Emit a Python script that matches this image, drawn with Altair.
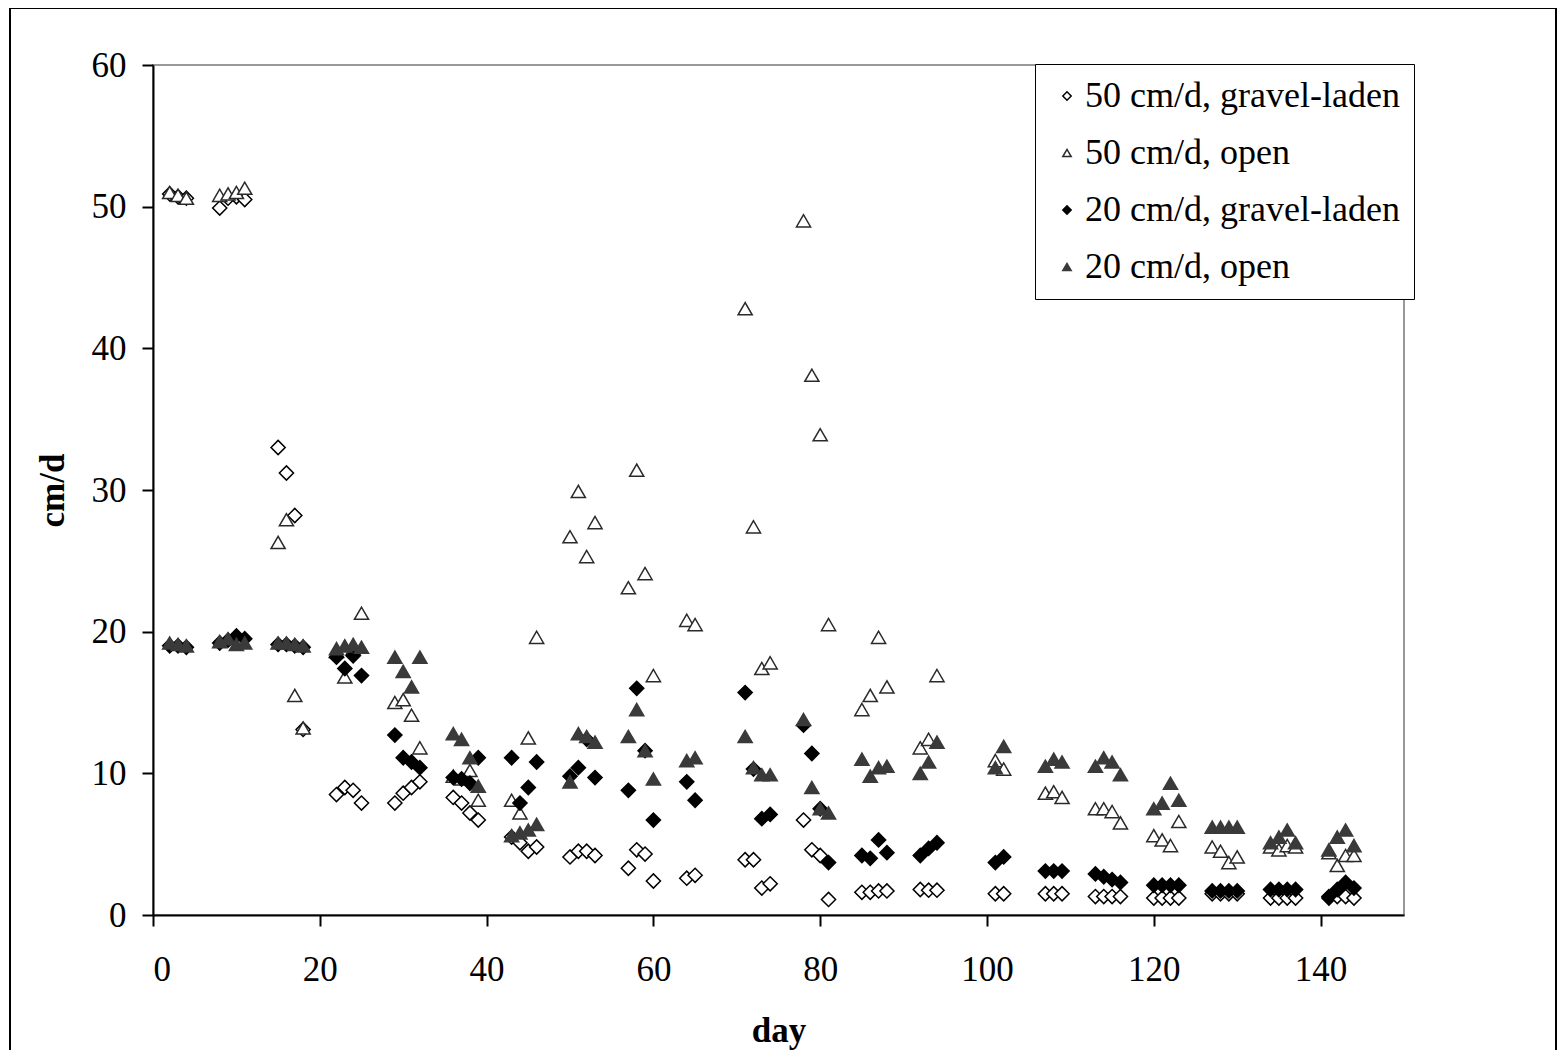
import altair as alt
import pandas as pd

days = [2, 3, 4, 8, 9, 10, 11, 15, 16, 17, 18, 22, 23, 24, 25, 29, 30, 31, 32,
        36, 37, 38, 39, 43, 44, 45, 46, 50, 51, 52, 53, 57, 58, 59, 60, 64, 65,
        71, 72, 73, 74, 78, 79, 80, 81, 85, 86, 87, 88, 92, 93, 94, 101, 102,
        107, 108, 109, 113, 114, 115, 116, 120, 121, 122, 123, 127, 128, 129, 130,
        134, 135, 136, 137, 141, 142, 143, 144]

s50_gravel = [50.9, 50.7, 50.6, 49.9, 50.6, 50.7, 50.5, 33.0, 31.2, 28.2, 13.1,
              8.5, 9.0, 8.8, 7.9, 7.9, 8.6, 9.0, 9.4, 8.3, 7.9, 7.2, 6.7,
              5.5, 5.1, 4.5, 4.8, 4.1, 4.5, 4.5, 4.2, 3.3, 4.6, 4.3, 2.4, 2.6, 2.8,
              3.9, 3.9, 1.9, 2.2, 6.7, 4.6, 4.2, 1.1, 1.6, 1.6, 1.7, 1.7, 1.8, 1.75, 1.75,
              1.5, 1.5, 1.5, 1.5, 1.5, 1.3, 1.3, 1.3, 1.3, 1.2, 1.2, 1.2, 1.2,
              1.5, 1.5, 1.5, 1.5, 1.2, 1.2, 1.2, 1.2, 1.2, 1.3, 1.3, 1.2]

s50_open = [51.0, 50.8, 50.6, 50.8, 50.9, 51.0, 51.3, 26.3, 27.9, 15.5, 13.2,
            18.6, 16.8, 18.8, 21.3, 15.0, 15.2, 14.1, 11.8, 9.8, 9.6, 10.2, 8.1,
            8.1, 7.2, 12.5, 19.6, 26.7, 29.9, 25.3, 27.7, 23.1, 31.4, 24.1, 16.9, 20.8, 20.5,
            42.8, 27.4, 17.4, 17.8, 49.0, 38.1, 33.9, 20.5, 14.5, 15.5, 19.6, 16.1, 11.8, 12.4, 16.9,
            10.9, 10.3, 8.6, 8.7, 8.3, 7.5, 7.5, 7.3, 6.5, 5.6, 5.3, 4.9, 6.6,
            4.8, 4.5, 3.7, 4.1, 4.8, 4.6, 4.9, 4.8, 4.4, 3.5, 4.2, 4.2]

s20_gravel = [19.0, 19.0, 18.9, 19.2, 19.4, 19.7, 19.5, 19.1, 19.1, 19.0, 18.9,
              18.2, 17.4, 18.3, 16.9, 12.7, 11.1, 10.8, 10.4, 9.7, 9.6, 9.3, 11.1,
              11.1, 7.9, 9.0, 10.8, 9.8, 10.4, 12.4, 9.7, 8.8, 16.0, 11.6, 6.7, 9.4, 8.1,
              15.7, 10.3, 6.8, 7.1, 13.4, 11.4, 7.5, 3.7, 4.2, 4.0, 5.3, 4.4, 4.2, 4.7, 5.1,
              3.7, 4.1, 3.1, 3.1, 3.1, 2.9, 2.7, 2.5, 2.3, 2.1, 2.1, 2.1, 2.1,
              1.7, 1.7, 1.7, 1.7, 1.8, 1.8, 1.8, 1.8, 1.3, 1.8, 2.3, 1.9]

s20_open = [19.2, 19.1, 19.0, 19.3, 19.5, 19.1, 19.2, 19.2, 19.2, 19.1, 19.0,
            18.8, 19.0, 19.1, 18.9, 18.2, 17.2, 16.1, 18.2, 12.8, 12.4, 11.1, 9.1,
            5.6, 5.8, 6.0, 6.4, 9.4, 12.8, 12.6, 12.2, 12.6, 14.5, 11.6, 9.6, 10.9, 11.1,
            12.6, 10.4, 9.9, 9.9, 13.8, 9.0, 7.5, 7.2, 11.0, 9.8, 10.4, 10.5, 10.0, 10.8, 12.2,
            10.4, 11.9, 10.5, 11.0, 10.8, 10.5, 11.1, 10.8, 9.9, 7.5, 7.9, 9.3, 8.1,
            6.2, 6.2, 6.2, 6.2, 5.1, 5.5, 6.0, 5.1, 4.6, 5.5, 6.0, 4.9]

series_names = ["50 cm/d, gravel-laden", "50 cm/d, open",
                "20 cm/d, gravel-laden", "20 cm/d, open"]
series_values = [s50_gravel, s50_open, s20_gravel, s20_open]
x_ticks = [0, 20, 40, 60, 80, 100, 120, 140]
y_ticks = [0, 10, 20, 30, 40, 50, 60]

rows = []
for name, vals in zip(series_names, series_values):
    for d, v in zip(days, vals):
        rows.append({"day": d, "value": v, "series": name})
df = pd.DataFrame(rows)

FONT = "Liberation Serif"

frame = alt.Chart(alt.Data(values=[{"a": 1}])).mark_rect(
    fill="transparent", stroke="black", strokeWidth=2
).encode(
    x=alt.value(-143), x2=alt.value(1403),
    y=alt.value(-57), y2=alt.value(1010)
)

points = alt.Chart(df).mark_point(opacity=1, size=200, strokeWidth=1.5).encode(
    x=alt.X("day:Q", title="day",
            scale=alt.Scale(domain=[0, 150], nice=False),
            axis=alt.Axis(values=x_ticks, labelPadding=26, titleY=126,
                          titleBaseline="alphabetic")),
    y=alt.Y("value:Q", title="cm/d",
            scale=alt.Scale(domain=[0, 60], nice=False),
            axis=alt.Axis(values=y_ticks, labelPadding=16, titleX=-101,
                          titleBaseline="middle")),
    shape=alt.Shape("series:N", sort=series_names,
                    scale=alt.Scale(domain=series_names,
                                    range=["diamond", "triangle-up", "diamond", "triangle-up"]),
                    legend=alt.Legend(orient="none", legendX=882, legendY=-1, title=None,
                                      padding=14, strokeColor="black", fillColor="white",
                                      labelFont=FONT, labelFontSize=36, labelColor="black",
                                      labelLimit=0,
                                      symbolSize=70, symbolStrokeWidth=1.5, rowPadding=21,
                                      labelOffset=0, symbolOffset=0)),
    fill=alt.Fill("series:N", sort=series_names,
                  scale=alt.Scale(domain=series_names,
                                  range=["white", "white", "black", "#3a3a3a"])),
    stroke=alt.Stroke("series:N", sort=series_names,
                      scale=alt.Scale(domain=series_names,
                                      range=["black", "#2a2a2a", "black", "#3a3a3a"])),
)

chart = alt.layer(frame, points).properties(
    width=1251, height=850,
    autosize=alt.AutoSizeParams(type="none"),
    padding={"left": 145, "top": 57, "right": 154, "bottom": 135},
    background="white",
).configure_view(
    stroke="#999999", strokeWidth=2
).configure_axis(
    grid=False, domainColor="black", domainWidth=2, tickColor="black",
    tickWidth=2, tickSize=11, labelFont=FONT, labelFontSize=35,
    labelColor="black", titleFont=FONT, titleFontSize=35,
    titleFontWeight="bold", titleColor="black"
)

chart.save("out.html", embed_options={"renderer": "svg", "actions": False})
